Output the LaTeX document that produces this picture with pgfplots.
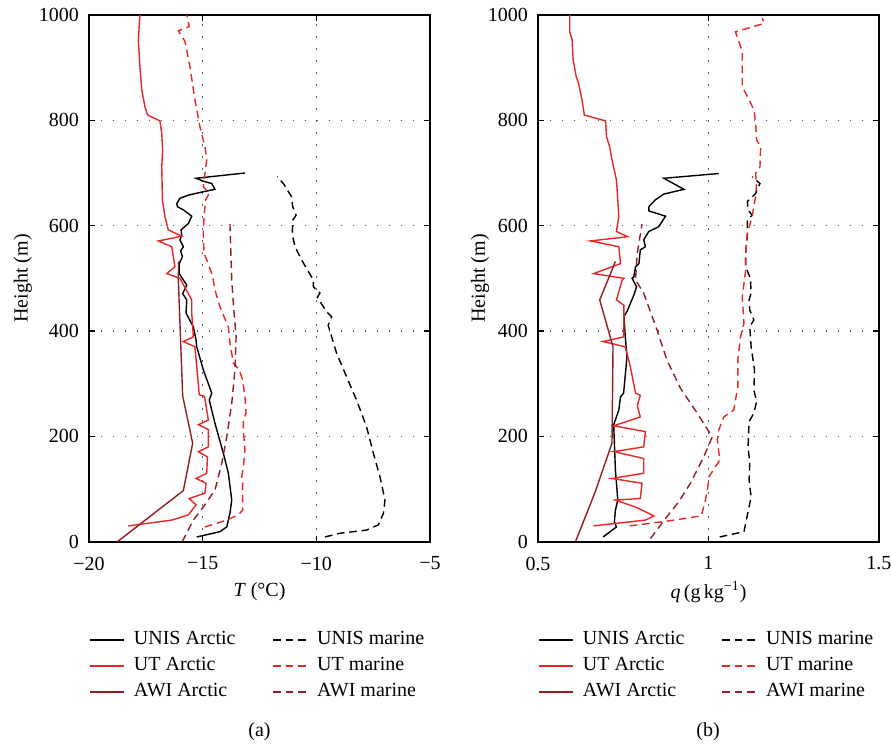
\documentclass[border=0pt]{standalone}
\usepackage{fontspec}
\setmainfont{Liberation Serif}
\usepackage{pgfplots}
\pgfplotsset{compat=1.18}
\definecolor{utred}{RGB}{232,38,38}
\definecolor{awired}{RGB}{150,28,34}
\pgfplotsset{
  myaxis/.style={
    scale only axis,
    width=170.5pt, height=263.35pt,
    anchor=south west,
    ymin=0, ymax=1000,
    ytick={0,200,400,600,800,1000},
    ylabel={Height (m)},
    grid=major,
    major grid style={dash pattern=on 0.6pt off 5.4pt, line width=0.6pt, black!65},
    axis line style={line width=0.9pt},
    tick style={black, line width=0.6pt},
    major tick length=3pt,
    tick align=inside,
    /pgf/number format/assume math mode=true,
    /pgf/number format/1000 sep={},
    yticklabel style={xshift=-1.5pt},
    xticklabel style={yshift=-4pt},
    xlabel style={at={(axis description cs:0.5,-0.0955)}, anchor=center},
    legend columns=2,
    legend style={at={(axis description cs:0,-0.161)}, anchor=north west, draw=none, inner sep=0pt,
      row sep=0pt,
      nodes={text height=7pt, text depth=2pt, inner ysep=2pt},
      /tikz/every odd column/.append style={column sep=2.5pt},
      /tikz/every even column/.append style={column sep=16.5pt}},
    legend cell align=left,
  },
  ua/.style={black, line width=0.7pt},
  um/.style={black, line width=0.7pt, dash pattern=on 3.8pt off 2.4pt},
  ta/.style={utred, line width=0.7pt},
  tm/.style={utred, line width=0.7pt, dash pattern=on 3.8pt off 2.4pt},
  aa/.style={awired, line width=0.7pt},
  am/.style={awired, line width=0.7pt, dash pattern=on 3.8pt off 2.4pt},
}
\begin{document}
\begin{tikzpicture}
\path[use as bounding box] (0,0) rectangle (445.5pt,372pt);
\begin{axis}[myaxis, at={(44.5pt,101.15pt)},
  xmin=-20, xmax=-5, xtick={-20,-15,-10,-5}, xticklabels={−20,−15,−10,−5},
  xlabel={\textit{T} (°C)},
  ylabel style={at={(axis description cs:-0.194,0.5)}, anchor=center}]
\addplot[ua] coordinates {(-15.26,9) (-14.24,19) (-13.94,28) (-13.80,54) (-13.72,79) (-13.87,130) (-14.09,168) (-14.46,225) (-14.71,269) (-14.60,282) (-14.97,326) (-15.26,370) (-15.29,383) (-15.41,408) (-15.73,434) (-15.70,459) (-15.88,471) (-15.70,487) (-15.85,497) (-16.03,509) (-16.03,528) (-15.89,541) (-15.97,552) (-15.85,560) (-16.00,573) (-15.92,582) (-15.95,592) (-15.63,604) (-15.48,618) (-15.85,630) (-16.11,636) (-16.14,642) (-16.00,652) (-15.63,658) (-15.12,663) (-14.46,669) (-14.60,680) (-14.94,684) (-15.29,690) (-13.14,700)};
\addlegendentry{UNIS Arctic}
\addplot[um] coordinates {(-9.62,9) (-8.96,16) (-7.79,22) (-7.27,32) (-7.05,54) (-6.98,79) (-7.20,123) (-7.49,168) (-7.79,218) (-8.23,269) (-8.67,313) (-9.11,358) (-9.48,411) (-9.33,427) (-9.55,437) (-9.84,456) (-9.96,464) (-9.84,472) (-10.13,484) (-10.13,497) (-10.35,513) (-10.65,535) (-10.94,560) (-11.06,585) (-11.03,611) (-10.89,620) (-11.04,636) (-11.09,655) (-11.45,680) (-11.72,693)};
\addlegendentry{UNIS marine}
\addplot[ta] coordinates {(-18.27,30) (-16.36,41) (-15.63,51) (-15.29,70) (-15.59,82) (-14.90,92) (-14.85,111) (-15.29,120) (-14.82,130) (-14.79,161) (-15.19,171) (-14.75,180) (-14.75,213) (-15.19,222) (-14.75,231) (-14.92,276) (-15.15,279) (-15.34,370) (-15.85,380) (-15.41,389) (-15.48,434) (-15.48,459) (-16.00,500) (-16.58,509) (-16.22,522) (-16.36,560) (-16.95,571) (-15.92,580) (-16.51,592) (-16.66,617) (-16.77,649) (-16.80,712) (-16.76,744) (-16.80,775) (-16.88,799) (-17.42,810) (-17.54,826) (-17.68,858) (-17.76,902) (-17.83,952) (-17.76,1000)};
\addlegendentry{UT Arctic}
\addplot[tm] coordinates {(-14.90,28) (-13.94,41) (-13.43,51) (-13.24,60) (-13.24,111) (-13.28,123) (-13.21,142) (-13.14,174) (-13.21,212) (-13.21,231) (-13.09,244) (-13.14,275) (-13.24,307) (-13.39,326) (-13.65,339) (-13.80,377) (-13.87,408) (-13.94,415) (-14.24,446) (-14.46,478) (-14.56,503) (-14.75,528) (-14.94,547) (-14.97,585) (-14.94,617) (-14.87,649) (-14.72,661) (-14.97,674) (-14.90,699) (-14.82,725) (-14.90,750) (-15.12,788) (-15.34,839) (-15.56,902) (-15.78,950) (-16.07,970) (-15.59,978) (-15.70,1000)};
\addlegendentry{UT marine}
\addplot[aa] coordinates {(-18.75,0) (-15.85,97) (-15.44,187) (-15.88,277) (-16.07,497) (-16.06,532)};
\addlegendentry{AWI Arctic}
\addplot[am] coordinates {(-15.90,0) (-15.41,41) (-14.97,66) (-14.46,98) (-14.16,149) (-13.94,199) (-13.72,263) (-13.58,326) (-13.53,389) (-13.65,452) (-13.72,496) (-13.80,603)};
\addlegendentry{AWI marine}
\end{axis}
\begin{axis}[myaxis, at={(269pt,101.15pt)},
  xmin=0.5, xmax=1.5, xtick={0.5,1,1.5}, xticklabels={0.5,1,1.5},
  xlabel={\textit{q}\,(g\,kg\textsuperscript{−1})},
  ylabel style={at={(axis description cs:-0.17,0.5)}, anchor=center}]
\addplot[ua] coordinates {(0.691,9) (0.730,28) (0.724,38) (0.727,60) (0.734,79) (0.727,136) (0.722,222) (0.737,250) (0.742,275) (0.751,282) (0.761,351) (0.756,389) (0.752,428) (0.761,437) (0.781,468) (0.789,484) (0.776,500) (0.781,503) (0.786,522) (0.796,528) (0.800,554) (0.815,560) (0.810,573) (0.825,589) (0.854,598) (0.874,618) (0.825,628) (0.825,636) (0.844,649) (0.869,660) (0.928,669) (0.869,690) (1.030,699)};
\addlegendentry{UNIS Arctic}
\addplot[um] coordinates {(1.033,9) (1.104,19) (1.125,85) (1.119,117) (1.121,149) (1.116,180) (1.119,228) (1.133,244) (1.141,266) (1.133,288) (1.135,326) (1.125,370) (1.121,408) (1.133,421) (1.121,440) (1.119,459) (1.125,472) (1.123,500) (1.109,522) (1.109,547) (1.114,585) (1.114,611) (1.128,620) (1.116,630) (1.114,646) (1.138,661) (1.151,680) (1.128,693)};
\addlegendentry{UNIS marine}
\addplot[ta] coordinates {(0.663,30) (0.815,41) (0.840,49) (0.789,65) (0.727,79) (0.800,82) (0.805,111) (0.717,120) (0.810,130) (0.810,158) (0.722,171) (0.810,180) (0.815,209) (0.722,220) (0.800,237) (0.791,258) (0.800,278) (0.786,282) (0.771,332) (0.756,370) (0.691,380) (0.752,389) (0.752,449) (0.730,459) (0.747,497) (0.752,500) (0.663,509) (0.742,528) (0.737,560) (0.654,571) (0.763,579) (0.730,589) (0.737,617) (0.734,649) (0.730,687) (0.717,725) (0.710,750) (0.701,769) (0.698,799) (0.636,810) (0.629,839) (0.619,870) (0.612,883) (0.603,915) (0.600,953) (0.593,968) (0.593,1000)};
\addlegendentry{UT Arctic}
\addplot[tm] coordinates {(0.769,30) (0.889,40) (0.979,49) (0.991,79) (0.998,104) (1.001,123) (1.033,155) (1.026,193) (1.030,212) (1.045,237) (1.074,250) (1.086,294) (1.086,345) (1.094,389) (1.104,415) (1.099,465) (1.109,516) (1.109,547) (1.114,585) (1.128,617) (1.133,636) (1.138,655) (1.141,680) (1.138,699) (1.151,712) (1.153,750) (1.141,763) (1.138,797) (1.133,820) (1.119,839) (1.099,864) (1.099,930) (1.089,950) (1.079,968) (1.163,984) (1.158,994)};
\addlegendentry{UT marine}
\addplot[aa] coordinates {(0.610,0) (0.668,95) (0.717,187) (0.720,370) (0.681,459) (0.717,516) (0.727,532)};
\addlegendentry{AWI Arctic}
\addplot[am] coordinates {(0.830,6) (0.869,40) (0.913,76) (0.947,111) (0.986,161) (1.011,199) (0.967,244) (0.918,291) (0.878,345) (0.849,402) (0.810,472) (0.786,497) (0.791,547) (0.805,603)};
\addlegendentry{AWI marine}
\end{axis}
\node at (129.75pt,6pt) {(a)};
\node at (354pt,6pt) {(b)};
\end{tikzpicture}
\end{document}
